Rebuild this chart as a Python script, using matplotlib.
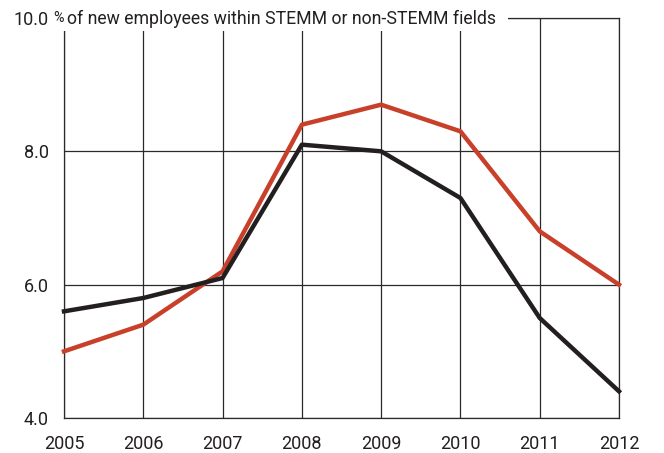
import matplotlib
matplotlib.use("Agg")
import matplotlib.pyplot as plt
from matplotlib.patches import Rectangle

years = [2005, 2006, 2007, 2008, 2009, 2010, 2011, 2012]
stemm = [5.6, 5.8, 6.1, 8.1, 8.0, 7.3, 5.5, 4.4]
non_stemm = [5.0, 5.4, 6.2, 8.4, 8.7, 8.3, 6.8, 6.0]
yticks = [4.0, 6.0, 8.0, 10.0]
ytick_labels = ["4.0", "6.0", "8.0", "10.0"]
title = "of new employees within STEMM or non-STEMM fields"

FONT = ['Roboto', 'DejaVu Sans']
plt.rcParams['font.family'] = FONT
FS = 13
INK = "#231f20"
W, H = 664, 453
fig = plt.figure(figsize=(W / 100, H / 100), dpi=100)
ax = fig.add_axes([64 / W, 1 - 418 / H, (619 - 64) / W, (418 - 18) / H])

ax.plot(years, non_stemm, color="#c8402a", lw=3.2, zorder=3, clip_on=False)
ax.plot(years, stemm, color=INK, lw=3.2, zorder=4, clip_on=False)

ax.set_xlim(2005, 2012)
ax.set_ylim(4, 10)
ax.set_xticks(years)
ax.set_xticklabels([str(y) for y in years])
ax.set_yticks(yticks)
ax.set_yticklabels(ytick_labels)
ax.grid(True, color="#2a2a2a", lw=0.9, zorder=1)
ax.set_axisbelow(True)
for s in ax.spines.values():
    s.set_color("#2a2a2a")
    s.set_linewidth(0.9)
ax.tick_params(length=0, labelsize=FS, colors=INK, labelcolor=INK)
ax.tick_params(axis='x', pad=12)
ax.tick_params(axis='y', pad=11)

# white mask behind heading
fig.patches.append(Rectangle((50 / W, 1 - 31 / H), 458 / W, 31 / H, transform=fig.transFigure,
                             facecolor="white", edgecolor="none", zorder=5))
fig.text(53 / W, 1 - 18.5 / H, "%", fontsize=FS * 0.8, color=INK, va="center", ha="left", zorder=6)
fig.text(67 / W, 1 - 18.5 / H, title, fontsize=12.7, color=INK, va="center", ha="left", zorder=6)

fig.savefig("out.png", dpi=100)
